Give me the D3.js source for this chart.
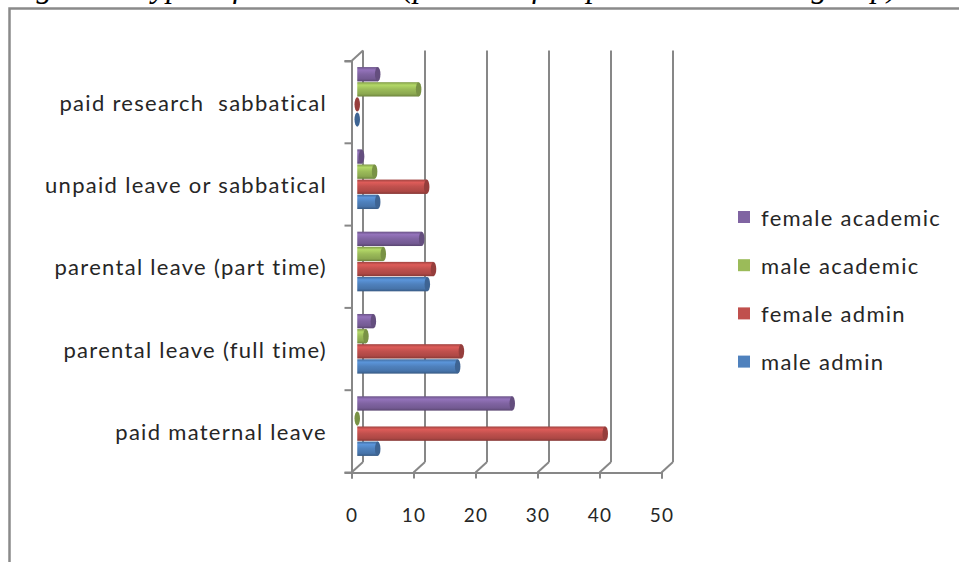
<!DOCTYPE html>
<html>
<head>
<meta charset="utf-8">
<script src="https://cdn.jsdelivr.net/npm/d3@7"></script>
<style>
  html, body { margin: 0; padding: 0; background: #fff; }
  svg { display: block; }
</style>
</head>
<body>
<svg id="chart" width="959" height="562"></svg>
<script>
// Leave categories, top to bottom
const categories = [
  "paid research  sabbatical",
  "unpaid leave or sabbatical",
  "parental leave (part time)",
  "parental leave (full time)",
  "paid maternal leave"
];
// Series, in the order they stack inside each category (top to bottom)
const seriesNames = ["female academic", "male academic", "female admin", "male admin"];
const seriesColors = ["#8064A2", "#9BBB59", "#C0504D", "#4F81BD"];
// Percentages per series, one value per category (same order as categories)
const femaleAcademic = [3.3, 0.7, 10.4, 2.6, 25];
const maleAcademic   = [9.9, 2.8, 4.2, 1.4, 0];
const femaleAdmin    = [0, 11.2, 12.3, 16.8, 40];
const maleAdmin      = [0, 3.3, 11.3, 16.2, 3.3];
const xTicks = [0, 10, 20, 30, 40, 50];

const seriesValues = [femaleAcademic, maleAcademic, femaleAdmin, maleAdmin];

const svg = d3.select("#chart");
const textColor = "#262626";
const lineColor = "#878787";
const font = "Lato, 'Open Sans', sans-serif";

// Page heading above the chart frame
svg.append("text")
  .attr("x", 8).attr("y", -3)
  .attr("font-family", "'Liberation Serif', 'Times New Roman', serif")
  .attr("font-style", "italic")
  .attr("font-size", 32)
  .attr("fill", "#000")
  .text("Figure 4: Types of leave taken (percent of respondents in each group)");

// Chart frame
svg.append("path")
  .attr("d", "M9.5,600 V8.5 H1000")
  .attr("fill", "none")
  .attr("stroke", "#8a8a8a")
  .attr("stroke-width", 2.5);

// 3D box geometry: front plane and depth offset
const front = { left: 351.5, top: 61, bottom: 472.5 };
const depth = { dx: 11.5, dy: -10.5 };

const x = d3.scaleLinear().domain([0, 50]).range([front.left, front.left + 310]);
const y0 = d3.scaleBand().domain(categories).range([front.top, front.bottom]).padding(0);
const y1 = d3.scaleBand().domain(seriesNames).range([0, y0.bandwidth()])
  .paddingInner(0.05).paddingOuter(0.75);

// Back wall gridlines
const g = svg.append("g");
g.selectAll("line.grid").data(xTicks).join("line")
  .attr("class", "grid")
  .attr("x1", d => x(d) + depth.dx).attr("x2", d => x(d) + depth.dx)
  .attr("y1", front.top + depth.dy).attr("y2", front.bottom + depth.dy)
  .attr("stroke", lineColor).attr("stroke-width", 2);

// Floor diagonals
g.selectAll("line.floor").data(xTicks).join("line")
  .attr("class", "floor")
  .attr("x1", d => x(d)).attr("y1", front.bottom)
  .attr("x2", d => x(d) + depth.dx).attr("y2", front.bottom + depth.dy)
  .attr("stroke", lineColor).attr("stroke-width", 2);

// Left wall top edge
g.append("line")
  .attr("x1", front.left).attr("y1", front.top)
  .attr("x2", front.left + depth.dx).attr("y2", front.top + depth.dy)
  .attr("stroke", lineColor).attr("stroke-width", 2);

// Horizontal value axis (front edge of the floor)
const xAxis = d3.axisBottom(x).tickValues(xTicks).tickSize(6).tickPadding(30);
const xg = svg.append("g").attr("transform", `translate(0,${front.bottom})`).call(xAxis);
xg.select(".domain").attr("stroke", lineColor).attr("stroke-width", 2);
xg.selectAll(".tick line").attr("stroke", lineColor).attr("stroke-width", 2);
xg.selectAll(".tick text")
  .attr("font-family", font).attr("font-size", 19).attr("fill", textColor)
  .attr("letter-spacing", 1.2);

// Vertical category axis (front-left edge)
const yAxis = d3.axisLeft(y0).tickSize(7).tickFormat("").tickSizeOuter(7);
const yg = svg.append("g").attr("transform", `translate(${front.left},0)`).call(yAxis);
yg.select(".domain").attr("stroke", lineColor).attr("stroke-width", 2);
yg.selectAll(".tick line").attr("stroke", lineColor).attr("stroke-width", 2)
  .attr("transform", `translate(0,${-y0.bandwidth() / 2})`);
// closing tick at the foot of the category axis
yg.append("line").attr("x1", -7).attr("x2", 0)
  .attr("y1", front.bottom).attr("y2", front.bottom)
  .attr("stroke", lineColor).attr("stroke-width", 2);

// Category labels
svg.append("g").selectAll("text").data(categories).join("text")
  .attr("x", 327)
  .attr("y", d => y0(d) + y0.bandwidth() / 2)
  .attr("text-anchor", "end")
  .attr("dominant-baseline", "central")
  .attr("font-family", font).attr("font-size", 22)
  .attr("letter-spacing", 1.3)
  .attr("fill", textColor)
  .style("white-space", "pre")
  .text(d => d);

// Cylinder shading gradients
const defs = svg.append("defs");
seriesNames.forEach((s, i) => {
  const c = d3.color(seriesColors[i]);
  const grad = defs.append("linearGradient")
    .attr("id", "cyl" + i).attr("x1", 0).attr("y1", 0).attr("x2", 0).attr("y2", 1);
  grad.append("stop").attr("offset", "0%").attr("stop-color", c.darker(0.5));
  grad.append("stop").attr("offset", "20%").attr("stop-color", c.brighter(0.4));
  grad.append("stop").attr("offset", "50%").attr("stop-color", c);
  grad.append("stop").attr("offset", "82%").attr("stop-color", c.darker(0.3));
  grad.append("stop").attr("offset", "100%").attr("stop-color", c.darker(1.0));
});

// Bars sit half way into the depth of the box
const mid = { dx: depth.dx / 2, dy: depth.dy / 2 };
const capRx = 2.75;
const bars = [];
categories.forEach((cat, ci) => {
  seriesNames.forEach((s, si) => {
    bars.push({ cat, s, si, value: seriesValues[si][ci] });
  });
});

const barG = svg.append("g");
const bar = barG.selectAll("g.bar").data(bars).join("g").attr("class", "bar");
bar.append("rect")
  .attr("x", d => x(0) + mid.dx)
  .attr("y", d => y0(d.cat) + y1(d.s) + mid.dy)
  .attr("width", d => x(d.value) - x(0))
  .attr("height", y1.bandwidth())
  .attr("fill", d => `url(#cyl${d.si})`);
bar.append("ellipse")
  .attr("cx", d => x(d.value) + mid.dx)
  .attr("cy", d => y0(d.cat) + y1(d.s) + mid.dy + y1.bandwidth() / 2)
  .attr("rx", capRx)
  .attr("ry", y1.bandwidth() / 2)
  .attr("fill", d => d3.color(seriesColors[d.si]).darker(0.7));

// Legend
const legend = svg.append("g").attr("transform", "translate(738,217)");
const li = legend.selectAll("g").data(seriesNames).join("g")
  .attr("transform", (d, i) => `translate(0,${i * 48.2})`);
li.append("rect").attr("x", 0).attr("y", -6).attr("width", 12).attr("height", 12)
  .attr("fill", (d, i) => seriesColors[i]);
li.append("text").attr("x", 23).attr("y", 0)
  .attr("dominant-baseline", "central")
  .attr("font-family", font).attr("font-size", 22).attr("fill", textColor)
  .attr("letter-spacing", 1.3)
  .text(d => d);
</script>
</body>
</html>
